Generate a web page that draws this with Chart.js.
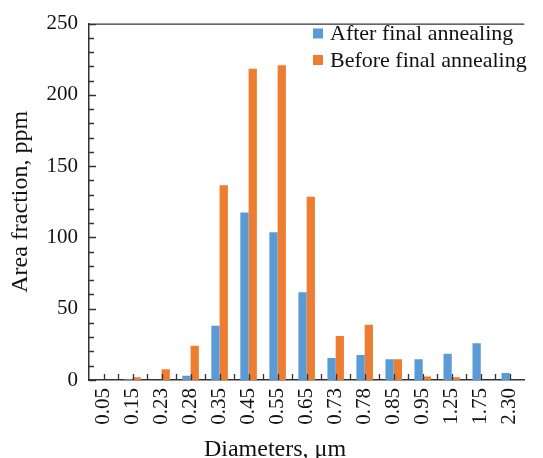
<!DOCTYPE html>
<html>
<head>
<meta charset="utf-8">
<script src="https://cdn.jsdelivr.net/npm/chart.js@4.4.0/dist/chart.umd.min.js"></script>
<style>
  body { margin: 0; background: #fff; }
</style>
</head>
<body>
<canvas id="grafico" width="543" height="458"></canvas>
<script>
// datos
const diametros = ["0.05", "0.15", "0.23", "0.28", "0.35", "0.45", "0.55", "0.65",
                   "0.73", "0.78", "0.85", "0.95", "1.25", "1.75", "2.30"];
const despues = [0, 0.6, 0, 3, 38, 117.5, 103.7, 61.6, 15.5, 17.6, 14.6, 14.6, 18.5, 25.7, 4.9];
const antes   = [0, 2, 7.6, 24, 136.6, 218.3, 220.8, 128.5, 30.8, 38.7, 14.6, 2.5, 2, 0, 0];
const nombres = ["After final annealing", "Before final annealing"];
const colores = ["#5B9BD5", "#ED7D31"];
const tituloX = "Diameters, μm";
const tituloY = "Area fraction, ppm";

const serif = "'Liberation Serif', 'Times New Roman', serif";
const colorEje = "#333";

// ticks hacia adentro, borde superior, titulo x y leyenda dentro del area
const extras = {
  id: "extras",
  afterDraw(chart) {
    const ctx = chart.ctx;
    const area = chart.chartArea;
    const x = chart.scales.x;
    const y = chart.scales.y;
    ctx.save();
    ctx.strokeStyle = colorEje;
    ctx.lineWidth = 1.3;
    ctx.beginPath();
    // ticks del eje y
    for (let v = 0; v <= 250; v += 10) {
      const py = Math.round(y.getPixelForValue(v)) + 0.5;
      const largo = v % 50 === 0 ? 7 : 5;
      ctx.moveTo(area.left, py);
      ctx.lineTo(area.left + largo, py);
    }
    // ticks del eje x (centros y limites)
    for (let k = 0; k <= 2 * diametros.length - 2; k++) {
      const px = Math.round(x.getPixelForValue(k / 2)) + 0.5;
      ctx.moveTo(px, area.bottom);
      ctx.lineTo(px, area.bottom - 6);
    }
    // borde superior
    ctx.moveTo(area.left, area.top + 0.5);
    ctx.lineTo(area.right, area.top + 0.5);
    ctx.stroke();

    // titulo del eje x (centrado en todo el lienzo)
    ctx.fillStyle = "#111";
    ctx.font = "24px " + serif;
    ctx.textAlign = "center";
    ctx.textBaseline = "alphabetic";
    ctx.fillText(tituloX, 275, 456);

    // leyenda
    ctx.font = "22px " + serif;
    ctx.textAlign = "left";
    ctx.textBaseline = "middle";
    const filas = [33.5, 60];
    nombres.forEach((n, i) => {
      ctx.fillStyle = colores[i];
      ctx.fillRect(313, filas[i] - 5, 10, 10);
      ctx.fillStyle = "#111";
      ctx.fillText(n, 330, filas[i] + 1);
    });
    ctx.restore();
  }
};

const config = {
  type: "bar",
  data: {
    labels: diametros,
    datasets: [
      { label: nombres[0], data: despues, backgroundColor: colores[0] },
      { label: nombres[1], data: antes, backgroundColor: colores[1] }
    ]
  },
  options: {
    responsive: false,
    animation: false,
    layout: { padding: { top: 20, right: 0, left: 0, bottom: 0 } },
    datasets: {
      bar: { categoryPercentage: 0.57, barPercentage: 1 }
    },
    plugins: {
      legend: { display: false },
      tooltip: { enabled: false }
    },
    scales: {
      x: {
        grid: { display: false, drawTicks: false },
        border: { display: true, color: colorEje, width: 1.5 },
        ticks: {
          font: { family: serif, size: 21 },
          color: "#111",
          maxRotation: 90,
          minRotation: 90,
          padding: 8,
          autoSkip: false
        },
        title: { display: false },
        afterFit(scale) { scale.height = 78; }
      },
      y: {
        min: 0,
        max: 250,
        grid: { display: false, drawTicks: false },
        border: { display: true, color: colorEje, width: 1.5 },
        ticks: {
          stepSize: 50,
          font: { family: serif, size: 21 },
          color: "#111",
          padding: 11
        },
        title: {
          display: true,
          text: tituloY,
          font: { family: serif, size: 24, lineHeight: 1 },
          color: "#111",
          padding: { top: 9, bottom: 0 }
        },
        afterFit(scale) { scale.width = 89; }
      }
    }
  },
  plugins: [extras]
};

const chart = new Chart(document.getElementById("grafico"), config);
</script>
</body>
</html>
